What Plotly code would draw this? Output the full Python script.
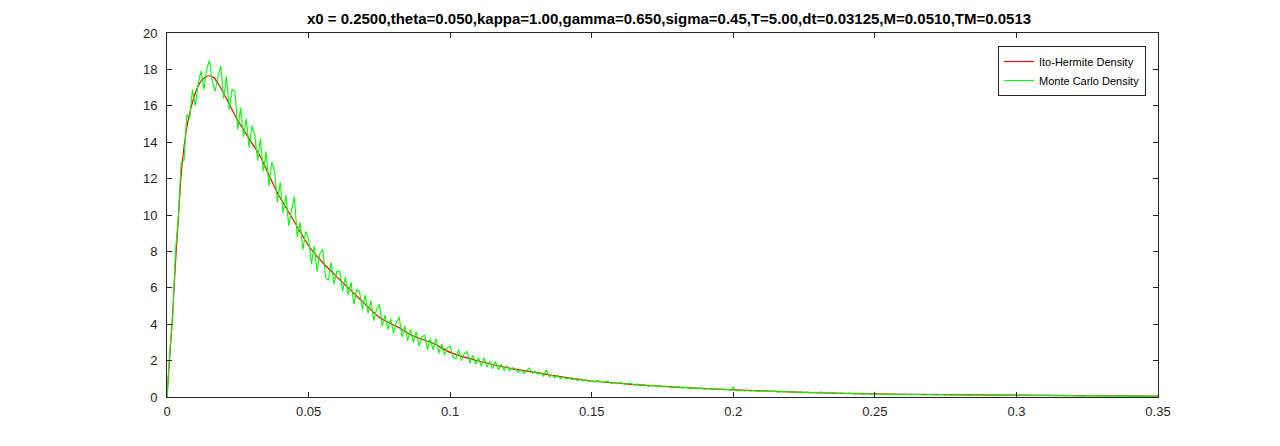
import numpy as np
import plotly.graph_objects as go

title_text = "x0 = 0.2500,theta=0.050,kappa=1.00,gamma=0.650,sigma=0.45,T=5.00,dt=0.03125,M=0.0510,TM=0.0513"

# Ito-Hermite density (smooth curve)
ih_x = [0, 0.001, 0.002, 0.003, 0.004, 0.005, 0.0065, 0.008, 0.0105, 0.0125, 0.0146, 0.0165,
        0.0185, 0.021, 0.0246, 0.029, 0.033, 0.0387, 0.0445, 0.0505, 0.0552, 0.060, 0.067,
        0.0752, 0.082, 0.087, 0.094, 0.100, 0.1106, 0.1223, 0.130, 0.1377, 0.150, 0.160,
        0.1706, 0.185, 0.200, 0.220, 0.2354, 0.250, 0.275, 0.300, 0.325, 0.350]
ih_y = [0, 2.3, 4.6, 7.4, 9.8, 12.2, 14.3, 15.6, 16.9, 17.45, 17.65, 17.55,
        17.1, 16.4, 15.3, 14.2, 13.2, 11.3, 9.75, 8.2, 7.35, 6.6, 5.55,
        4.35, 3.8, 3.35, 2.95, 2.45, 1.95, 1.55, 1.35, 1.15, 0.88, 0.75,
        0.62, 0.5, 0.39, 0.28, 0.21, 0.17, 0.13, 0.1, 0.07, 0.05]

# Monte Carlo density (histogram bins of width 0.001 from 0 to 0.35)
mc_x = np.round(np.arange(0, 0.3505, 0.001), 3)
mc_y = [
    0, 2.5, 4.3, 8.0, 9.9, 12.9, 13.0, 15.5, 15.3, 16.9,
    16.0, 17.2, 17.9, 16.9, 18.0, 18.5, 17.3, 16.8, 17.6, 18.2,
    16.4, 17.6, 15.8, 16.9, 16.8, 14.7, 15.9, 14.3, 15.3, 13.7,
    14.9, 14.4, 13.0, 14.2, 12.4, 13.5, 11.6, 12.9, 12.4, 10.7,
    11.8, 10.1, 11.1, 9.4, 10.3, 11.0, 8.8, 9.6, 8.1, 9.1,
    8.7, 7.3, 8.3, 6.9, 7.9, 8.1, 6.6, 6.4, 7.4, 6.2,
    6.9, 6.9, 5.8, 6.6, 5.6, 6.3, 5.1, 5.9, 5.8, 4.8,
    5.6, 4.6, 5.3, 4.2, 4.8, 5.1, 3.9, 4.5, 3.7, 4.3,
    3.5, 4.1, 4.4, 3.3, 3.9, 3.1, 3.7, 3.0, 3.6, 2.8,
    3.3, 3.4, 2.6, 3.2, 2.6, 3.2, 2.4, 2.9, 2.3, 2.7,
    2.8, 2.2, 2.1, 2.6, 2.0, 2.4, 2.5, 1.85, 2.3, 1.8,
    2.15, 1.7, 2.15, 1.65, 1.95, 1.55, 1.95, 1.5, 1.8, 1.45,
    1.7, 1.45, 1.6, 1.55, 1.35, 1.5, 1.3, 1.45, 1.6, 1.3,
    1.4, 1.25, 1.35, 1.15, 1.5, 1.1, 1.2, 1.05, 1.2, 1.0,
    1.1, 0.98, 1.08, 0.95, 1.02, 0.9, 1.0, 0.88, 0.95, 0.84,
    0.92,
    0.82, 0.9, 0.87, 0.78, 0.86, 0.84, 0.74, 0.82, 0.73, 0.79,
    0.76, 0.68, 0.77, 0.74, 0.65, 0.72, 0.62, 0.69, 0.66, 0.58,
    0.65, 0.63, 0.56, 0.62, 0.55, 0.6, 0.58, 0.51, 0.57, 0.52,
    0.56, 0.49, 0.54, 0.52, 0.46, 0.52, 0.45, 0.5, 0.48, 0.43,
    0.48, 0.42, 0.46, 0.45, 0.39, 0.45, 0.39, 0.43, 0.37, 0.55,
    0.34, 0.4, 0.36, 0.33, 0.37, 0.32, 0.36, 0.34, 0.3, 0.35,
    0.31, 0.33, 0.29, 0.32, 0.3, 0.27, 0.31, 0.28, 0.3, 0.26,
    0.29, 0.27, 0.25, 0.28, 0.24, 0.27, 0.25, 0.23, 0.26, 0.22,
    0.28, 0.22, 0.24, 0.2, 0.23, 0.21, 0.19, 0.22, 0.2, 0.18,
    0.21, 0.19, 0.17, 0.2, 0.18, 0.16, 0.19, 0.17, 0.15, 0.18,
    0.16, 0.14, 0.17, 0.15, 0.13, 0.16, 0.15, 0.13, 0.16, 0.14,
    0.15, 0.13, 0.12, 0.15, 0.13, 0.14, 0.12, 0.11, 0.14, 0.12,
    0.13, 0.11, 0.14, 0.12, 0.11, 0.13, 0.1, 0.12, 0.11, 0.13,
    0.1, 0.12, 0.11, 0.09, 0.12, 0.1, 0.11, 0.09, 0.12, 0.1,
    0.09, 0.11, 0.1, 0.08, 0.11, 0.09, 0.1, 0.08, 0.11, 0.09,
    0.1, 0.08, 0.09, 0.11, 0.08, 0.09, 0.07, 0.1, 0.08, 0.09,
    0.07, 0.09, 0.08, 0.06, 0.09, 0.07, 0.08, 0.06, 0.08, 0.07,
    0.06, 0.08, 0.07, 0.05, 0.07, 0.06, 0.08, 0.05, 0.07, 0.06,
    0.05, 0.07, 0.05, 0.06, 0.04, 0.06, 0.05, 0.07, 0.04, 0.05,
    0.06, 0.04, 0.05, 0.04, 0.06, 0.03, 0.05, 0.04, 0.05, 0.04,
]

x_ticks = [0, 0.05, 0.1, 0.15, 0.2, 0.25, 0.3, 0.35]
x_tick_labels = ["0", "0.05", "0.1", "0.15", "0.2", "0.25", "0.3", "0.35"]
y_ticks = [0, 2, 4, 6, 8, 10, 12, 14, 16, 18, 20]
y_tick_labels = [str(v) for v in y_ticks]

FONT = "Liberation Sans, Arial, sans-serif"

fig = go.Figure()
fig.add_trace(go.Scatter(x=ih_x, y=ih_y, mode="lines", name="Ito-Hermite Density",
                         line=dict(color="#ff0000", width=1.2, shape="spline", smoothing=0.6)))
n = min(len(mc_x), len(mc_y))
fig.add_trace(go.Scatter(x=mc_x[:n], y=mc_y[:n], mode="lines", name="Monte Carlo Density",
                         line=dict(color="#00ff00", width=1.1)))

axis_common = dict(showline=True, linecolor="#262626", linewidth=1, mirror="ticks",
                   ticks="inside", ticklen=5, tickcolor="#262626", showgrid=False,
                   zeroline=False, tickfont=dict(family=FONT, size=13, color="#262626"))

fig.update_layout(
    width=1280, height=446,
    margin=dict(l=159, r=130, t=25, b=57),
    paper_bgcolor="white", plot_bgcolor="white",
    title=dict(text="<b>" + title_text + "</b>", x=661 / 1280, xanchor="center",
               y=1 - 11 / 446, yanchor="middle",
               font=dict(family=FONT, size=15, color="black")),
    xaxis=dict(range=[0, 0.35], tickvals=x_ticks, ticktext=x_tick_labels,
               ticklabelstandoff=2, **axis_common),
    yaxis=dict(range=[0, 20], tickvals=y_ticks, ticktext=y_tick_labels,
               ticklabelstandoff=6, **axis_common),
    legend=dict(x=(1146 - 167) / 991, xanchor="right", y=(397 - 46) / 364, yanchor="top",
                bgcolor="white", bordercolor="#262626", borderwidth=1,
                font=dict(family=FONT, size=11, color="black"),
                tracegroupgap=0, itemwidth=30),
    showlegend=True,
)

fig.write_html("out.html")
